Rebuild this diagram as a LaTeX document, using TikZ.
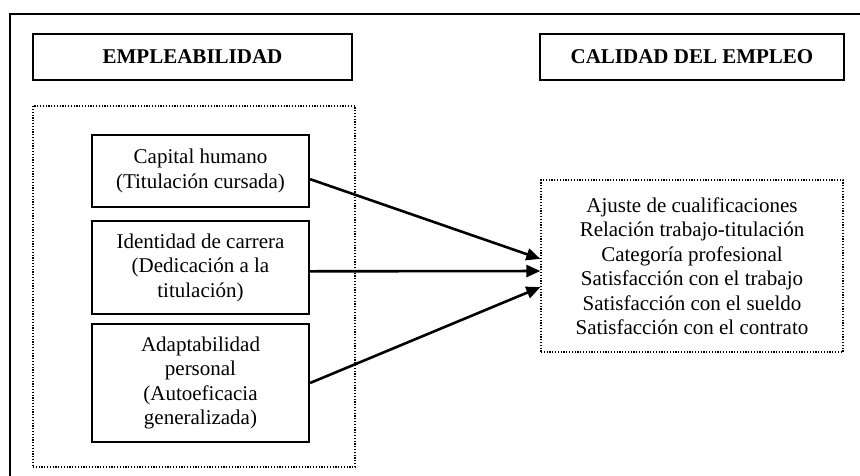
\documentclass[tikz,border=0pt]{standalone}
\usepackage{fontspec}
\setmainfont{Liberation Serif}
\usetikzlibrary{arrows.meta,calc}
\begin{document}
\begin{tikzpicture}[x=1pt,y=-1pt,
  txt/.style={font=\fontsize{21}{24.5}\selectfont, align=center, inner sep=0pt},
  solidbox/.style={txt, draw, line width=2.2pt, rectangle},
  headbox/.style={solidbox, font=\fontsize{21}{24.5}\selectfont\bfseries},
  dotbox/.style={txt, draw, line width=1.3pt, dash pattern=on 1.2pt off 1.6pt, rectangle},
  conn/.style={line width=2.6pt, -{Triangle[length=14pt,width=12pt]}}]
\useasboundingbox (0,0) rectangle (860,476);
\clip (0,0) rectangle (860,476);
\fill[white] (0,0) rectangle (860,476);
% outer frame (cut by the picture's edge)
\draw[line width=2.6pt] (10,490) -- (10,14) -- (880,14);
% headings
\node[headbox, minimum width=319pt, minimum height=46pt] (emp) at (192.5,57) {EMPLEABILIDAD};
\node[headbox, minimum width=304pt, minimum height=46pt] (cal) at (692,57) {CALIDAD DEL EMPLEO};
% dotted containers
\node[dotbox, minimum width=322pt, minimum height=361pt] (grp) at (194,286.5) {};
\node[dotbox, minimum width=302pt, minimum height=172pt] (res) at (692,266)
  {Ajuste de cualificaciones\\Relación trabajo-titulación\\Categoría profesional\\Satisfacción con el trabajo\\Satisfacción con el sueldo\\Satisfacción con el contrato};
% factor boxes
\node[solidbox, minimum width=217pt, minimum height=72pt] (cap) at (200.5,171) {Capital humano\\(Titulación cursada)};
\node[solidbox, minimum width=217pt, minimum height=93pt] (ide) at (200.5,267.5) {Identidad de carrera\\(Dedicación a la\\titulación)};
\node[solidbox, minimum width=217pt, minimum height=118pt] (ada) at (200.5,383) {Adaptabilidad\\personal\\(Autoeficacia\\generalizada)};
% connectors
\draw[conn] ($(cap.north east)!0.61!(cap.south east)$) -- ($(res.north west)!0.459!(res.south west)$);
\draw[conn] ($(ide.north east)!0.54!(ide.south east)$) -- ($(res.north west)!0.529!(res.south west)$);
\draw[conn] (ada.east) -- ($(res.north west)!0.622!(res.south west)$);
\end{tikzpicture}
\end{document}
